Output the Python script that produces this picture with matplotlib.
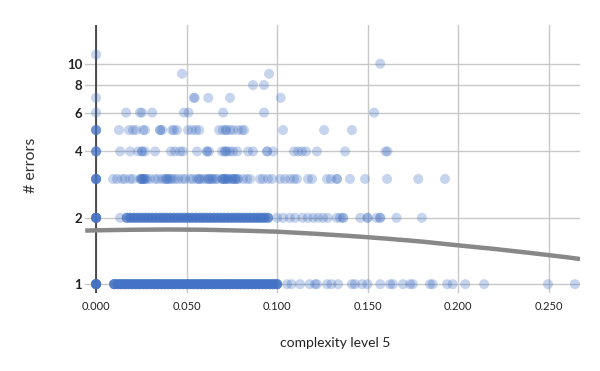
import numpy as np
import matplotlib
matplotlib.use("Agg")
import matplotlib.pyplot as plt

# ----------------------------
# data (x = complexity level 5, y = # errors)
# ----------------------------
lvl1_dense = [0.010, 0.012, 0.014, 0.016, 0.018, 0.020, 0.022, 0.024, 0.026, 0.028,
              0.030, 0.032, 0.034, 0.036, 0.038, 0.040, 0.042, 0.044, 0.046, 0.048,
              0.050, 0.052, 0.054, 0.056, 0.058, 0.060, 0.062, 0.064, 0.066, 0.068,
              0.070, 0.072, 0.074, 0.076, 0.078, 0.080, 0.082, 0.084, 0.086, 0.088,
              0.090, 0.092, 0.094, 0.096, 0.098, 0.100]
lvl1_sparse = [0.0] * 10 + [
               0.1055, 0.108, 0.1127, 0.118, 0.121, 0.122, 0.1276, 0.130, 0.1337,
               0.1414, 0.143, 0.147, 0.150, 0.157, 0.1624, 0.164, 0.1696, 0.1735,
               0.175, 0.1845, 0.186, 0.194, 0.197, 0.204, 0.2144, 0.2497, 0.2646]

lvl2_dense = [0.017, 0.019, 0.021, 0.023, 0.025, 0.027, 0.029, 0.031, 0.033, 0.035,
              0.037, 0.039, 0.041, 0.043, 0.045, 0.047, 0.049, 0.051, 0.053, 0.055,
              0.057, 0.059, 0.061, 0.063, 0.065, 0.067, 0.069, 0.071, 0.073, 0.075,
              0.077, 0.079, 0.081, 0.083, 0.085, 0.087, 0.089, 0.091, 0.093, 0.095]
lvl2_sparse = [0.0] * 8 + [0.0133, 0.100, 0.1033, 0.107, 0.110, 0.114,
               0.117, 0.120, 0.1227, 0.1254, 0.128, 0.133, 0.1348, 0.1365, 0.1365,
               0.146, 0.150, 0.150, 0.155, 0.157, 0.157, 0.166, 0.180]

lvl3_x = [0.0] * 6 + [0.0094, 0.0116, 0.0144, 0.016, 0.0188, 0.0204, 0.0243,
          0.0254, 0.026, 0.027, 0.025, 0.027, 0.0298, 0.0326, 0.0343, 0.0365, 0.038,
          0.0392, 0.040, 0.042, 0.0436, 0.0453, 0.0475, 0.0492, 0.052, 0.0536, 0.0558,
          0.057, 0.0586, 0.0602, 0.062, 0.063, 0.0646, 0.066, 0.0669, 0.0696, 0.070,
          0.0713, 0.072, 0.0729, 0.075, 0.0751, 0.0768, 0.078, 0.0785, 0.0812, 0.0834,
          0.0851, 0.0906, 0.0923, 0.095, 0.0972, 0.1017, 0.1044, 0.1072, 0.1094,
          0.111, 0.1171, 0.1193, 0.1276, 0.1298, 0.1331, 0.1331, 0.1403, 0.1486,
          0.1608, 0.178, 0.1928,
          0.025, 0.026, 0.028, 0.039, 0.041, 0.057, 0.062, 0.064, 0.070, 0.071,
          0.073, 0.076, 0.077]

lvl4_x = [0.0] * 4 + [0.0133, 0.0188, 0.0232, 0.0254, 0.0254, 0.027, 0.0326,
          0.0414, 0.0436, 0.0464, 0.048, 0.0558, 0.0613, 0.0613, 0.0624, 0.0696,
          0.0713, 0.0713, 0.0724, 0.074, 0.0757, 0.078, 0.084, 0.0867, 0.0945,
          0.0945, 0.0978, 0.1094, 0.1116, 0.1138, 0.116, 0.122, 0.1376, 0.160, 0.161]

lvl5_x = [0.0] * 4 + [0.0127, 0.0182, 0.0204, 0.0221, 0.026, 0.027, 0.0354,
          0.0354, 0.0365, 0.042, 0.043, 0.0447, 0.0508, 0.053, 0.0552, 0.057,
          0.068, 0.070, 0.0718, 0.0718, 0.074, 0.0757, 0.0785, 0.0807, 0.0818,
          0.1033, 0.126, 0.1414]

lvl6_x = [0.0, 0.0166, 0.0243, 0.0254, 0.031, 0.0486, 0.051, 0.0702, 0.0928, 0.1536]
lvl7_x = [0.0, 0.054, 0.0545, 0.062, 0.074, 0.102]
lvl8_x = [0.0867, 0.0928]
lvl9_x = [0.0475, 0.0956]
lvl10_x = [0.157]
lvl11_x = [0.0]

# gray trend curve
curve_x = [-0.006, 0.0, 0.02, 0.04, 0.06, 0.08, 0.10, 0.12, 0.14, 0.16, 0.18,
           0.20, 0.22, 0.24, 0.26, 0.2674]
curve_y = [1.75, 1.755, 1.765, 1.77, 1.765, 1.75, 1.73, 1.695, 1.655, 1.61, 1.56,
           1.50, 1.445, 1.385, 1.325, 1.30]

yticks = [1, 2, 4, 6, 8, 10]
xticks = [0.0, 0.05, 0.10, 0.15, 0.20, 0.25]

plt.rcParams['font.family'] = ['Lato', 'DejaVu Sans']

fig = plt.figure(figsize=(6, 3.71), dpi=100)
ax = fig.add_axes([0.1417, 0.210, 0.8250, 0.723])

blue = "#4472c4"
levels = [
    (lvl1_dense * 6 + lvl1_sparse, 1),
    (lvl2_dense * 4 + lvl2_sparse, 2),
    (lvl3_x, 3), (lvl4_x, 4), (lvl5_x, 5), (lvl6_x, 6), (lvl7_x, 7),
    (lvl8_x, 8), (lvl9_x, 9), (lvl10_x, 10), (lvl11_x, 11),
]
for xs, lv in levels:
    ax.scatter(xs, [lv] * len(xs), s=52, color=blue, alpha=0.3,
               edgecolors="none", zorder=3)

ax.plot(curve_x, curve_y, color="#888888", lw=3.2, zorder=4, solid_capstyle="butt")

ax.set_yscale("log")
ax.set_xlim(-0.0061, 0.2674)
ax.set_ylim(0.911, 15.0)

ax.set_yticks(yticks)
ax.set_yticklabels([str(t) for t in yticks], fontsize=9.5, fontweight="bold", color="#222222")
ax.yaxis.set_minor_locator(matplotlib.ticker.NullLocator())
ax.set_xticks(xticks)
ax.set_xticklabels([f"{t:.3f}" for t in xticks], fontsize=8, color="#222222")
ax.tick_params(axis="both", length=0)
ax.tick_params(axis="y", pad=2)
ax.tick_params(axis="x", pad=6)

ax.grid(True, color="#c8c8c8", lw=1)
ax.set_axisbelow(True)
for s in ax.spines.values():
    s.set_visible(False)
ax.axvline(0.0, color="#333333", lw=1.2, zorder=2)

fig.text(0.558, 0.075, "complexity level 5", ha="center", va="center",
         fontsize=10, color="#222222")
fig.text(0.052, 0.555, "# errors", ha="center", va="center", rotation=90,
         fontsize=11.5, color="#333333")

fig.savefig("out.png", dpi=100)
